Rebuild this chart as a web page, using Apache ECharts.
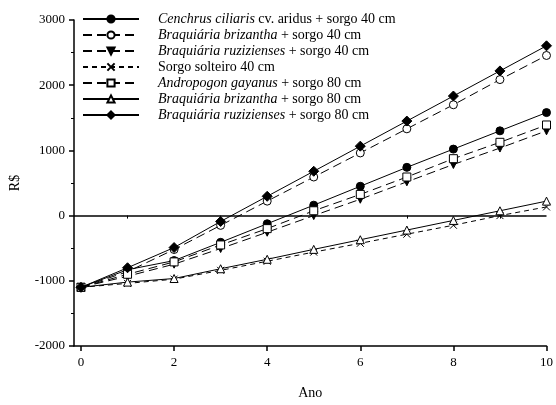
<!DOCTYPE html>
<html>
<head>
<meta charset="utf-8">
<script src="https://cdn.jsdelivr.net/npm/echarts@6/dist/echarts.min.js"></script>
<style>html,body{margin:0;padding:0;background:#fff;}#c{width:556px;height:405px;}</style>
</head>
<body>
<div id="c"></div>
<script>
const years = [0,1,2,3,4,5,6,7,8,9,10];
const seriesNames = [
  'Cenchrus ciliaris cv. aridus + sorgo 40 cm',
  'Braquiária brizantha + sorgo 40 cm',
  'Braquiária ruzizienses + sorgo 40 cm',
  'Sorgo solteiro 40 cm',
  'Andropogon gayanus + sorgo 80 cm',
  'Braquiária brizantha + sorgo 80 cm',
  'Braquiária ruzizienses + sorgo 80 cm'
];
const italicParts = ['Cenchrus ciliaris','Braquiária brizantha','Braquiária ruzizienses','','Andropogon gayanus','Braquiária brizantha','Braquiária ruzizienses'];
const cenchrus40   = [-1100,-830,-690,-410,-125,160,450,740,1020,1300,1580];
const brizantha40  = [-1100,-860,-520,-150,222,592,961,1331,1700,2086,2456];
const ruziziensis40= [-1100,-930,-745,-505,-255,0,251,518,784,1036,1300];
const sorgo40      = [-1100,-1040,-975,-840,-700,-560,-425,-285,-148,0,133];
const andropogon80 = [-1100,-900,-710,-450,-200,74,325,592,873,1124,1390];
const brizantha80  = [-1100,-1020,-965,-815,-670,-518,-370,-222,-74,74,222];
const ruziziensis80= [-1100,-800,-490,-90,296,680,1065,1450,1834,2219,2604];
const yTicks = [-2000,-1000,0,1000,2000,3000];
const xLabelTicks = [0,2,4,6,8,10];
const xMinorTicks = [1,3,5,7,9];

const allData = [cenchrus40, brizantha40, ruziziensis40, sorgo40, andropogon80, brizantha80, ruziziensis80];
const FONT = '"Liberation Serif", "DejaVu Serif", serif';
const styles = [
  {symbol:'circle', size:8, fill:'#000', dash:'solid'},
  {symbol:'circle', size:8, fill:'#fff', dash:[9,5]},
  {symbol:'triangle', size:8, fill:'#000', dash:[9,5], rotate:180},
  {symbol:'path://M0,0L10,10M10,0L0,10', size:7, fill:'#fff', dash:[5,4]},
  {symbol:'rect', size:8, fill:'#fff', dash:[9,5]},
  {symbol:'triangle', size:8, fill:'#fff', dash:'solid'},
  {symbol:'diamond', size:10, fill:'#000', dash:'solid'}
];

const series = allData.map((d, i) => {
  const s = styles[i];
  const o = {
    name: seriesNames[i],
    type: 'line',
    data: years.map((y, k) => [y, d[k]]),
    symbol: s.symbol,
    symbolSize: s.size,
    symbolRotate: s.rotate || 0,
    showAllSymbol: true,
    lineStyle: {color:'#000', width:1, type: s.dash},
    itemStyle: {color: s.fill, borderColor:'#000', borderWidth:1},
    emphasis: {disabled:true},
    animation:false,
    z: 3 + i
  };
  if (i === 0) {
    o.markLine = {
      silent:true, symbol:['none','none'], label:{show:false},
      lineStyle:{color:'#000', width:1.5, type:'solid'},
      data:[{yAxis:0}], animation:false
    };
  }
  return o;
});

const chart = echarts.init(document.getElementById('c'), null, {renderer:'canvas'});
chart.setOption({
  backgroundColor:'#fff',
  animation:false,
  grid:{left:72, top:20, width:476, height:338, containLabel:false},
  legend:{
    orient:'vertical', left:82, top:12, padding:0,
    itemWidth:56, itemHeight:9, itemGap:2,
    data: seriesNames,
    textStyle:{
      fontFamily:FONT, fontSize:14, color:'#000', padding:[0,0,0,14],
      rich:{
        i:{fontFamily:FONT, fontSize:14, fontStyle:'italic', color:'#000'},
        n:{fontFamily:FONT, fontSize:14, color:'#000'}
      }
    },
    formatter: function(name){
      const idx = seriesNames.indexOf(name);
      const it = italicParts[idx];
      if (!it) return '{n|' + name + '}';
      return '{i|' + it + '}{n|' + name.slice(it.length) + '}';
    }
  },
  xAxis:[{
    type:'value', min:-0.15, max:10,
    name:'Ano', nameLocation:'middle', nameGap:40,
    nameTextStyle:{fontFamily:FONT, fontSize:14, color:'#000'},
    axisLine:{show:true, onZero:false, lineStyle:{color:'#000', width:1.5}},
    axisTick:{show:true, length:5, customValues:xLabelTicks, lineStyle:{color:'#000', width:1.5}},
    axisLabel:{fontFamily:FONT, fontSize:13, color:'#000', margin:10, customValues:xLabelTicks},
    splitLine:{show:false}
  },{
    type:'value', min:-0.15, max:10, position:'bottom',
    axisLine:{show:false},
    axisTick:{show:true, length:3, customValues:xMinorTicks, lineStyle:{color:'#000', width:1}},
    axisLabel:{show:false},
    splitLine:{show:false}
  }],
  yAxis:{
    type:'value', min:-2000, max:3000, interval:1000,
    name:'R$', nameLocation:'middle', nameGap:52, nameRotate:90,
    nameTextStyle:{fontFamily:FONT, fontSize:14, color:'#000'},
    axisLine:{show:true, onZero:false, lineStyle:{color:'#000', width:1.5}},
    axisTick:{show:true, length:5, lineStyle:{color:'#000', width:1.5}},
    minorTick:{show:true, splitNumber:2, length:3, lineStyle:{color:'#000', width:1}},
    axisLabel:{fontFamily:FONT, fontSize:13, color:'#000', margin:9, customValues:yTicks,
      formatter: v => String(v)},
    splitLine:{show:false}
  },
  series: series
});
</script>
</body>
</html>
